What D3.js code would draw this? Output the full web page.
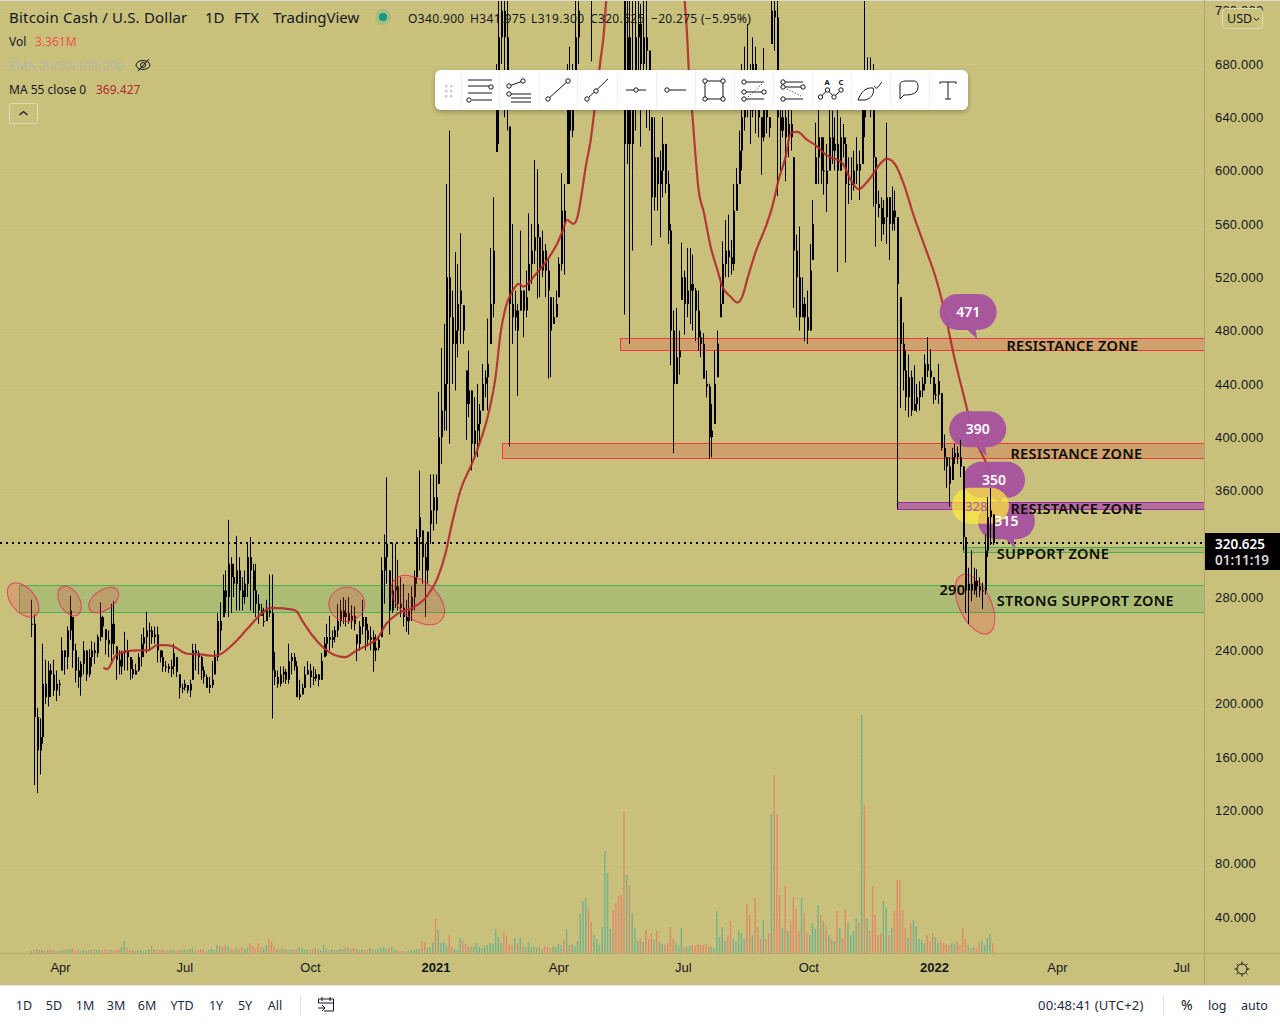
<!DOCTYPE html>
<html>
<head>
<meta charset="utf-8">
<script src="https://cdn.jsdelivr.net/npm/d3@7"></script>
<style>
html, body { margin: 0; padding: 0; background: #fff; overflow: hidden; }
svg { display: block; font-family: "Noto Sans", sans-serif; }
</style>
</head>
<body>
<div id="chart"></div>
<script>
// two day bars, prices in USD
var startDate = "2020-03-11",
    barDays = 2;

var highs = [
    278,267,197,189,245,233,232,230,233,225,
    218,250,240,258,281,265,245,235,232,247,
    240,241,247,246,252,276,266,256,255,275,
    277,243,240,240,254,248,235,233,230,238,
    252,257,269,261,258,258,258,240,240,232,
    230,233,245,235,222,215,218,214,218,245,
    245,240,236,228,222,220,232,240,268,276,
    297,300,338,310,305,326,310,295,300,320,
    325,305,305,282,275,272,278,297,297,239,
    225,228,228,226,245,238,238,232,218,215,
    228,232,230,228,226,222,238,250,260,266,
    255,258,275,278,280,278,280,274,273,252,
    262,278,265,260,258,255,252,250,310,327,
    370,300,321,320,308,295,290,278,283,288,
    300,331,375,330,320,329,372,372,372,434,
    467,485,590,630,510,539,530,553,499,450,
    465,435,430,440,425,455,450,489,542,580,
    680,740,740,740,740,633,560,510,500,555,
    510,525,568,560,608,601,550,555,545,535,
    505,505,510,535,598,590,680,693,680,745,
    745,1000,1100,1150,1050,850,1000,1100,1200,1300,
    1400,1500,1600,1550,1400,1350,1100,900,800,760,
    760,760,740,725,760,730,690,640,640,610,
    615,640,620,600,560,495,497,480,546,525,
    542,542,537,512,510,480,478,450,440,425,
    465,480,520,547,563,567,548,590,602,630,
    680,693,710,680,700,693,660,640,692,660,
    640,745,760,760,650,655,650,650,650,610,
    552,558,520,505,510,545,578,636,650,625,
    625,620,650,645,640,650,640,635,625,610,
    610,615,625,615,650,790,685,685,680,610,
    585,580,578,636,580,588,585,565,505,486,
    465,462,450,454,440,442,445,462,475,466,
    445,440,455,433,402,385,385,392,395,393,
    398,378,325,302,315,302,301,295,291,327,355,362,342
];

var lows = [
    250,139,133,147,170,200,198,205,206,202,
    206,225,222,226,248,227,216,212,206,222,
    217,220,228,230,235,247,250,237,235,232,
    237,218,222,222,225,225,218,219,222,224,
    228,235,238,240,245,245,231,231,224,224,
    223,220,222,220,204,208,210,208,205,218,
    225,222,218,215,212,208,212,222,232,240,
    265,268,265,268,280,270,270,270,275,280,
    270,268,265,260,266,258,262,265,189,214,
    212,213,216,215,215,222,225,205,203,207,
    212,222,212,214,217,213,218,235,236,240,
    242,246,250,258,260,258,260,256,255,232,
    240,252,240,243,240,224,232,240,250,275,
    290,252,268,272,270,265,258,254,252,262,
    270,290,300,290,265,290,320,330,335,365,
    380,405,405,395,440,435,460,470,470,398,
    415,375,385,385,395,420,430,420,470,490,
    614,620,680,640,630,393,470,480,431,495,
    475,490,510,515,530,504,505,520,505,444,
    445,485,490,505,525,522,590,590,625,650,
    680,800,850,900,820,682,800,850,950,1000,
    1000,1100,1150,1100,1000,950,800,492,605,470,
    540,630,660,618,660,632,630,544,570,570,
    550,580,583,545,454,388,440,447,503,477,
    490,485,480,472,465,460,444,430,384,385,
    410,445,490,500,520,520,522,525,570,590,
    600,630,640,620,640,628,625,597,622,628,
    625,695,690,581,600,625,592,610,615,497,
    490,480,490,472,470,480,533,590,590,590,
    582,569,600,605,600,524,600,610,531,575,
    578,585,590,578,605,625,650,640,573,543,
    565,547,552,545,533,555,555,346,422,435,
    420,415,416,420,419,420,430,435,445,440,
    425,428,425,390,375,362,348,368,380,380,
    370,315,268,260,277,282,280,280,271,282,310,319,319
];

var closes = [
    260,190,165,175,215,205,225,222,210,215,
    214,240,235,255,270,240,225,220,230,240,
    222,235,240,238,250,265,258,248,245,260,
    245,233,228,238,240,235,226,222,225,235,
    245,250,255,255,250,252,240,235,228,228,
    226,228,238,224,212,212,215,210,215,240,
    238,235,225,220,212,214,218,235,262,255,
    285,280,305,295,290,300,285,280,290,310,
    300,285,275,270,262,262,270,268,225,220,
    215,222,224,218,232,235,228,205,207,212,
    222,225,220,219,222,218,232,245,250,248,
    250,255,262,270,265,268,262,266,260,245,
    258,265,255,248,250,240,242,248,300,310,
    320,270,285,288,275,272,265,262,270,280,
    295,325,340,310,300,335,345,355,345,400,
    420,440,520,490,470,480,500,510,480,425,
    435,395,405,410,420,440,445,455,500,540,
    650,700,720,700,660,500,490,495,480,510,
    495,505,530,540,550,560,525,540,525,510,
    480,490,500,530,570,560,650,630,650,700,
    720,900,1000,1050,900,800,900,1000,1100,1200,
    1250,1300,1400,1300,1200,1100,900,620,700,620,
    650,700,710,680,700,690,660,580,610,590,
    600,620,590,555,480,440,460,465,520,500,
    510,515,510,495,475,470,440,438,400,405,
    440,470,500,530,540,535,530,570,590,615,
    640,670,660,645,680,665,640,625,650,640,
    632,720,715,640,630,640,625,635,625,540,
    520,490,500,490,480,525,560,610,625,600,
    600,590,625,615,620,600,625,620,590,590,
    590,600,605,600,648,640,665,660,610,575,
    572,560,565,580,560,570,565,515,470,450,
    430,445,420,425,430,435,440,455,450,445,
    432,432,442,392,385,378,365,385,388,385,
    378,325,285,290,285,292,288,285,285,315,340,345,320.6
];

// volume, same bars, relative units
var volumes = [
    2,3,4,3,3,2,3,4,3,2,
    2,3,4,3,4,5,3,3,2,3,
    2,3,3,4,3,3,3,4,3,3,
    2,3,4,6,12,5,3,3,2,3,
    3,2,3,4,7,4,3,3,4,2,
    3,4,3,2,3,3,4,3,4,5,
    3,3,4,3,2,3,4,3,8,7,
    6,8,6,4,3,5,4,6,4,5,
    10,7,5,10,6,5,8,14,12,6,
    4,3,5,4,3,4,3,4,6,5,
    4,3,3,4,5,4,3,8,5,3,
    4,3,3,4,4,5,6,4,5,4,
    3,4,3,3,5,4,3,4,5,6,
    4,5,6,4,3,2,2,1,2,3,
    3,4,4,12,11,5,6,10,35,23,
    10,11,8,18,6,4,3,15,12,9,
    7,6,7,10,6,5,7,8,10,9,
    24,16,10,21,17,9,8,15,10,15,
    7,6,11,6,7,5,6,4,7,6,
    5,7,6,9,8,13,24,8,9,7,
    12,39,52,55,44,31,18,14,8,26,
    102,80,24,43,50,57,58,141,78,68,
    40,25,12,15,11,23,14,20,13,22,
    11,9,8,10,26,14,10,8,25,6,
    6,7,8,7,9,8,8,9,7,6,
    5,42,16,26,12,18,32,14,12,23,
    20,14,49,38,18,55,26,14,33,14,
    20,139,178,139,58,25,67,22,32,56,
    44,22,55,40,20,18,30,24,48,38,
    32,27,18,14,12,42,25,15,43,30,
    18,22,35,30,238,148,35,22,67,38,
    18,20,52,45,18,25,42,73,73,43,
    25,15,30,33,27,14,13,10,18,12,
    20,16,10,12,10,9,8,10,9,12,
    8,25,14,8,5,6,5,10,12,8,15,19,10
];

// MA 55, bar number and value
var maBars = [
    26.4,27.8,30.8,34.4,38.8,42.5,46.2,49,52,57,62,66.7,69,74,79,84,87.5,92.4,96.7,99.6,
    103,107,110.6,115,118.7,123,126.7,130,134,140,145,148.7,151.6,154,157.1,161.4,163.7,167.4,170,171.8,
    173.6,176,178.4,180.2,184.6,188.9,192.6,194.4,196.2,198.5,200,201.7,203,204.8,206.2,208.4,209.5,210.5,217.6,224.9,
    232.2,239.2,240.2,240.7,242,243.2,244.3,246.2,248.7,251.2,253,256,258.5,260.3,262.2,265.2,268.9,271.3,273.6,276.2,
    278,280.5,284.1,287.2,290.8,297,300,302.9,306.6,311,313.2,316.5,319.4,323.1,327.5,331.1,334.1,337.7,341.4,344,346.5,350.2,351.6
];
var maValues = [
    227,226,236,239,240,240,244,244,243,237.5,237,236,237,245,256,267,272,271.5,270,261,
    251,242,237,235,239.5,244,249,260,267.5,272.5,281,294,312.5,335,360,380.5,393,418,445.5,478,
    497,509,515,513,522,533,545.5,554,563,560,565.5,585.5,603,623,645.5,683,700.5,728,880,950,
    870,728,698,675.5,643,610.5,585.5,569,543,525.5,513,505.5,501,505.5,519,539,558,573,593,610.5,
    628,629,623,619,612,605.6,593,586,593,605.6,609,604,590,566,541,520,497,462,431,410,394,378,369.4
];

var priceTicks = [720,680,640,600,560,520,480,440,400,360,280,240,200,160,120,80,40],
    lastPrice = 320.625;

var timeTickDates = ["2020-04-01","2020-07-01","2020-10-01","2021-01-01","2021-04-01","2021-07-01","2021-10-01","2022-01-01","2022-04-01","2022-07-01"],
    timeTickLabels = ["Apr","Jul","Oct","2021","Apr","Jul","Oct","2022","Apr","Jul"];

// drawn zones, price top and bottom
var zoneStarts = ["2021-05-16","2021-02-19","2021-12-05","2022-01-22","2020-03-02"],
    zoneTops = [474.4,395.6,351.3,317.5,289],
    zoneBottoms = [465.4,384.3,346,313.8,268.8],
    zoneKinds = ["res","res","purple","sup","sup"];

var labelTexts = ["RESISTANCE ZONE","RESISTANCE ZONE","RESISTANCE ZONE","SUPPORT ZONE","STRONG SUPPORT ZONE","290"],
    labelDates = ["2022-02-23","2022-02-26","2022-02-26","2022-02-16","2022-02-16","2022-01-05"],
    labelPrices = [468.2,387.2,345.8,312.2,277,285];

var ellipseDates = ["2020-03-05","2020-04-08","2020-05-03","2020-10-28","2020-12-19","2022-01-31"],
    ellipsePrices = [277.8,277,277.8,274.7,277.8,274.7],
    ellipseRx = [20,16,17,18,31,32],
    ellipseRy = [12,10,10,17,19,16],
    ellipseTurn = [50,60,-35,0,40,65];

var calloutTexts = ["471","390","350","315"],
    calloutDates = ["2022-01-26","2022-02-02","2022-02-14","2022-02-23"],
    calloutPrices = [494,406,368,337];

var width = 1280,
    height = 1024,
    chartRight = 1204,
    chartBottom = 953;

var bg = "#c9c17b",
    ink = "#131722";

var parseDay = d3.utcParse("%Y-%m-%d");

var x = d3.scaleUtc()
    .domain([parseDay("2020-04-01"), parseDay("2022-01-01")])
    .range([60, 934]);

var y = d3.scaleLinear()
    .domain([680, 40])
    .range([64, 917]);

var volY = d3.scaleLinear()
    .domain([0, 238])
    .range([chartBottom, chartBottom - 238]);

function barX(i) {
    return x(d3.utcDay.offset(parseDay(startDate), i * barDays));
}

var svg = d3.select("#chart")
    .append("svg")
    .attr("width", width)
    .attr("height", height);

var defs = svg.append("defs");

defs.append("clipPath")
    .attr("id", "pane")
    .append("rect")
    .attr("x", 0)
    .attr("y", 1)
    .attr("width", chartRight)
    .attr("height", chartBottom - 1);

var shadow = defs.append("filter")
    .attr("id", "shadow")
    .attr("x", "-5%").attr("y", "-30%")
    .attr("width", "110%").attr("height", "170%");
shadow.append("feDropShadow")
    .attr("dx", 0).attr("dy", 2)
    .attr("stdDeviation", 2.5)
    .attr("flood-color", "#000")
    .attr("flood-opacity", 0.28);

svg.append("rect")
    .attr("width", width)
    .attr("height", 985)
    .attr("fill", bg);

svg.append("rect")
    .attr("width", width)
    .attr("height", 1)
    .attr("fill", "#dcdcd8");

// grid
svg.append("g")
    .selectAll("line")
    .data(priceTicks.concat([320]))
    .enter().append("line")
    .attr("x1", 0)
    .attr("x2", chartRight)
    .attr("y1", d => Math.round(y(d)) + 0.5)
    .attr("y2", d => Math.round(y(d)) + 0.5)
    .attr("stroke", "#fff")
    .attr("stroke-opacity", 0.07);

var pane = svg.append("g").attr("clip-path", "url(#pane)");

// volume under everything else
var barIds = d3.range(highs.length);

pane.append("g")
    .selectAll("rect")
    .data(barIds)
    .enter().append("rect")
    .attr("x", i => barX(i) - 0.7)
    .attr("width", 1.4)
    .attr("y", i => volY(volumes[i]))
    .attr("height", i => chartBottom - volY(volumes[i]))
    .attr("fill", i => (i > 0 && closes[i] < closes[i - 1]) ? "#e0896a" : "#72b28f");

// zones
var zoneFill = { res: "#cfa06c", purple: "#a33fa6", sup: "#7fb56a" },
    zoneEdge = { res: "#f23645", purple: "#9c27b0", sup: "#4caf50" },
    zoneAlpha = { res: 0.95, purple: 0.62, sup: 0.38 };

pane.append("g")
    .selectAll("rect")
    .data(zoneStarts)
    .enter().append("rect")
    .attr("x", d => Math.round(x(parseDay(d))) + 0.5)
    .attr("y", (d, i) => Math.round(y(zoneTops[i])) + 0.5)
    .attr("width", d => chartRight + 4 - x(parseDay(d)))
    .attr("height", (d, i) => Math.round(y(zoneBottoms[i]) - y(zoneTops[i])))
    .attr("fill", (d, i) => zoneFill[zoneKinds[i]])
    .attr("fill-opacity", (d, i) => zoneAlpha[zoneKinds[i]])
    .attr("stroke", (d, i) => zoneEdge[zoneKinds[i]])
    .attr("stroke-width", 1);

function drawBars(parent, ids) {
    var g = parent.append("g").attr("fill", "#000");
    g.selectAll(".wick")
        .data(ids)
        .enter().append("rect")
        .attr("class", "wick")
        .attr("x", i => Math.round(barX(i)))
        .attr("width", 1)
        .attr("y", i => y(highs[i]))
        .attr("height", i => y(lows[i]) - y(highs[i]));
    g.selectAll(".body")
        .data(ids)
        .enter().append("rect")
        .attr("class", "body")
        .attr("x", i => Math.round(barX(i)))
        .attr("width", 2)
        .attr("y", i => y(Math.min(highs[i], Math.max(closes[i], i > 0 ? closes[i - 1] : closes[i]))))
        .attr("height", i => {
            var top = Math.min(highs[i], Math.max(closes[i], i > 0 ? closes[i - 1] : closes[i])),
                bot = Math.max(lows[i], Math.min(closes[i], i > 0 ? closes[i - 1] : closes[i]));
            return Math.max(1, y(bot) - y(top));
        });
}

var lateBars = 335;
drawBars(pane, barIds.filter(i => i < lateBars));

// last price
pane.append("line")
    .attr("x1", 0)
    .attr("x2", chartRight)
    .attr("y1", y(lastPrice))
    .attr("y2", y(lastPrice))
    .attr("stroke", "#000")
    .attr("stroke-width", 2)
    .attr("stroke-dasharray", "2 4");

// MA line
var maLine = d3.line()
    .x(d => {
        var whole = Math.floor(d);
        return barX(whole) + (barX(whole + 1) - barX(whole)) * (d - whole);
    })
    .y((d, i) => y(maValues[i]))
    .curve(d3.curveMonotoneX);

pane.append("path")
    .attr("d", maLine(maBars))
    .attr("fill", "none")
    .attr("stroke", "#b2282f")
    .attr("stroke-opacity", 0.9)
    .attr("stroke-width", 2.2);

// ellipses
pane.append("g")
    .selectAll("ellipse")
    .data(ellipseDates)
    .enter().append("ellipse")
    .attr("rx", (d, i) => ellipseRx[i])
    .attr("ry", (d, i) => ellipseRy[i])
    .attr("transform", (d, i) => "translate(" + x(parseDay(d)) + "," + y(ellipsePrices[i]) + ") rotate(" + ellipseTurn[i] + ")")
    .attr("fill", "#f23645")
    .attr("fill-opacity", 0.22)
    .attr("stroke", "#e91e63")
    .attr("stroke-opacity", 0.75)
    .attr("stroke-width", 1);

// callouts
function callout(parent, cx, cy, w, h, tail, fill, alpha) {
    var g = parent.append("g")
        .attr("transform", "translate(" + cx + "," + cy + ")")
        .attr("opacity", alpha);
    g.append("rect")
        .attr("x", -w / 2)
        .attr("y", -h / 2)
        .attr("width", w)
        .attr("height", h)
        .attr("rx", h / 2)
        .attr("fill", fill);
    if (tail) {
        g.append("path")
            .attr("d", "M-4," + (h / 2 - 3) + "L" + tail[0] + "," + tail[1] + "L7," + (h / 2 - 3) + "Z")
            .attr("fill", fill);
    }
}

var calloutG = pane.append("g");
calloutTexts.forEach((t, i) => {
    callout(calloutG, x(parseDay(calloutDates[i])), y(calloutPrices[i]), i == 2 ? 62 : 57, 36, [9, 27], "#a8529f", 0.95);
});

callout(calloutG, x(parseDay("2022-02-04")), y(348.5), 57, 36, null, "#ffeb3b", 0.72);

calloutG.append("text")
    .attr("x", x(parseDay("2022-02-01")))
    .attr("y", y(348.5) + 5)
    .attr("text-anchor", "middle")
    .attr("font-size", 13)
    .attr("fill", "#a55f8f")
    .text("328");

calloutTexts.forEach((t, i) => {
    calloutG.append("text")
        .attr("x", x(parseDay(calloutDates[i])))
        .attr("y", y(calloutPrices[i]) + 5)
        .attr("text-anchor", "middle")
        .attr("font-size", 14)
        .attr("font-weight", 600)
        .attr("fill", "#fff")
        .text(t);
});

drawBars(pane, barIds.filter(i => i >= lateBars));

// zone labels
svg.append("g")
    .selectAll("text")
    .data(labelTexts)
    .enter().append("text")
    .attr("x", (d, i) => x(parseDay(labelDates[i])))
    .attr("y", (d, i) => y(labelPrices[i]) + 5)
    .attr("font-size", 14.5)
    .attr("font-weight", 600)
    .attr("letter-spacing", 0.3)
    .attr("fill", "#0b0b05")
    .text(d => d);

// price axis
svg.append("line")
    .attr("x1", chartRight + 0.5).attr("x2", chartRight + 0.5)
    .attr("y1", 0).attr("y2", 985)
    .attr("stroke", "#b0a96b");

var priceAxis = svg.append("g")
    .attr("transform", "translate(" + chartRight + ",0)")
    .call(d3.axisRight(y).tickValues(priceTicks).tickSize(0).tickPadding(11).tickFormat(d3.format(".3f")));
priceAxis.select(".domain").remove();
priceAxis.selectAll("text")
    .attr("font-family", "inherit")
    .attr("font-size", 13)
    .attr("letter-spacing", 0.2)
    .attr("fill", ink);

// time axis
svg.append("line")
    .attr("x1", 0).attr("x2", width)
    .attr("y1", chartBottom + 0.5).attr("y2", chartBottom + 0.5)
    .attr("stroke", "#b0a96b");

var timeAxis = svg.append("g")
    .attr("transform", "translate(0," + chartBottom + ")")
    .call(d3.axisBottom(x)
        .tickValues(timeTickDates.map(parseDay))
        .tickSize(0)
        .tickPadding(10)
        .tickFormat((d, i) => timeTickLabels[i]));
timeAxis.select(".domain").remove();
timeAxis.selectAll("text")
    .attr("font-family", "inherit")
    .attr("font-size", 13)
    .attr("font-weight", (d, i) => timeTickLabels[i].length == 4 ? 700 : 400)
    .attr("fill", ink);

// price tag
svg.append("rect")
    .attr("x", 1205).attr("y", 533)
    .attr("width", 75).attr("height", 37)
    .attr("fill", "#000");
svg.append("text")
    .attr("x", 1240).attr("y", 549)
    .attr("text-anchor", "middle")
    .attr("font-size", 13.5)
    .attr("font-weight", 600)
    .attr("fill", "#fff")
    .text(d3.format(".3f")(lastPrice));
svg.append("text")
    .attr("x", 1242).attr("y", 565)
    .attr("text-anchor", "middle")
    .attr("font-size", 13.5)
    .attr("font-weight", 600)
    .attr("fill", "#d8d8d8")
    .text("01:11:19");

// legend
function label(px, py, t, size, fill, extra) {
    var n = svg.append("text")
        .attr("x", px).attr("y", py)
        .attr("font-size", size)
        .attr("fill", fill)
        .text(t);
    if (extra) n.attr("letter-spacing", extra);
    return n;
}

label(9, 23, "Bitcoin Cash / U.S. Dollar", 15, ink, 0.2);
label(205, 23, "1D", 15, ink);
label(234, 23, "FTX", 15, ink);
label(273, 23, "TradingView", 15, ink);
svg.append("circle").attr("cx", 383).attr("cy", 17).attr("r", 8).attr("fill", "#26a69a").attr("opacity", 0.2);
svg.append("circle").attr("cx", 383).attr("cy", 17).attr("r", 4).attr("fill", "#089981");
label(408, 23, "O340.900", 12, ink, 0.35);
label(470, 23, "H341.975", 12, ink, 0.35);
label(531, 23, "L319.300", 12, ink, 0.35);
label(590, 23, "C320.625", 12, ink, 0.35);
label(651, 23, "\u221220.275 (\u22125.95%)", 12, ink, 0.3);

label(9, 46, "Vol", 12, ink);
label(35, 46, "3.361M", 12, "#ef5350");
label(9, 70, "EMA 20/50/100/200", 12.5, "#b4b7a8");
label(9, 94, "MA 55 close 0", 12, ink);
label(96, 94, "369.427", 12, "#b2282f");

// eye with a stroke through it
var eye = svg.append("g").attr("transform", "translate(143,65)").attr("fill", "none").attr("stroke", ink).attr("stroke-width", 1);
eye.append("ellipse").attr("rx", 7).attr("ry", 4.5);
eye.append("circle").attr("r", 2.5);
eye.append("line").attr("x1", -5).attr("y1", 6).attr("x2", 6).attr("y2", -6);

svg.append("rect")
    .attr("x", 9.5).attr("y", 103.5)
    .attr("width", 28).attr("height", 20)
    .attr("rx", 2)
    .attr("fill", "none")
    .attr("stroke", "#dedbb8");
svg.append("path")
    .attr("d", "M19.5,115L23.5,111.5L27.5,115")
    .attr("fill", "none")
    .attr("stroke", ink)
    .attr("stroke-width", 1.2);

// currency button, sits on the top tick
svg.append("rect")
    .attr("x", 1222.5).attr("y", 8.5)
    .attr("width", 40).attr("height", 20)
    .attr("rx", 4)
    .attr("fill", bg)
    .attr("stroke", "#dedbb8");
label(1227, 23, "USD", 12.5, ink);
svg.append("path")
    .attr("d", "M1254,18L1256.5,20.5L1259,18")
    .attr("fill", "none")
    .attr("stroke", ink);

// toolbar
var toolCentres = [480,519,558,597,636,675,714,753,792,831,870,909,948],
    toolDividers = [461,499,539,577,617,656,695,734,773,812,851,890,929];

var toolLines = [
    [[-12,-10,12,-10],[-12,-4,12,-4],[-12,3,12,3],[-8,10,12,10]],
    [[-10,-4,4,-9],[-8,4,12,4],[-8,8,12,8],[-8,12,12,12]],
    [[-10,9,10,-9]],
    [[-10,9,11,-11]],
    [[-10,0,10,0]],
    [[-8,0,11,0]],
    [[-9,-9,9,-9],[9,-9,9,9],[9,9,-9,9],[-9,9,-9,-9]],
    [[-9,-8,11,-8],[-9,2,11,2],[-9,9,11,9]],
    [[-9,-8,11,-8],[-9,-3,11,-3],[-9,9,11,9]],
    [[-10.5,7,-3.5,0],[-3.5,0,3,7],[3,7,10,0]],
    [], [], []
];

var toolDots = [
    [[11,-3],[-11,10]],
    [[-10,-4],[4,-9],[-10,4]],
    [[-10,9],[10,-9]],
    [[-10,9],[-1,1]],
    [[0,0]],
    [[-8,0]],
    [[-9,-9],[9,-9],[9,9],[-9,9]],
    [[-9,-8],[-9,2],[11,2],[-9,9]],
    [[-9,-8],[-9,-3],[11,-3],[-9,9]],
    [[-10.5,7],[-3.5,0],[3,7],[10,0]],
    [], [], []
];

var toolPaths = {
    10: "M-12,10C-9,2 -4,-3 3,-2C5,3 1,9 -5,10L-12,10M4,-4C5,-2 7,-1 8,-3L12,-8",
    11: "M-9,-5C-9,-9 -5,-9 -1,-9L5,-9C10,-9 10,-1 7,2C4,5 -2,5 -5,5L-9,9Z",
    12: "M-8,-8L8,-8M-8,-8L-8,-6M8,-8L8,-6M0,-8L0,9M-3,9L3,9"
};

var toolbar = svg.append("g");
toolbar.append("rect")
    .attr("x", 435).attr("y", 70)
    .attr("width", 533).attr("height", 40)
    .attr("rx", 6)
    .attr("fill", "#fff")
    .attr("filter", "url(#shadow)");

toolbar.selectAll(".divider")
    .data(toolDividers)
    .enter().append("line")
    .attr("class", "divider")
    .attr("x1", d => d + 0.5).attr("x2", d => d + 0.5)
    .attr("y1", 70).attr("y2", 110)
    .attr("stroke", "#eef0f6");

d3.range(2).forEach(c => {
    d3.range(3).forEach(r => {
        toolbar.append("rect")
            .attr("x", 445 + c * 5).attr("y", 85 + r * 5)
            .attr("width", 2.4).attr("height", 2.4)
            .attr("fill", "#c8cbd6");
    });
});

toolCentres.forEach((cx, i) => {
    var g = toolbar.append("g").attr("transform", "translate(" + cx + ",90)");
    g.selectAll("line")
        .data(toolLines[i])
        .enter().append("line")
        .attr("x1", d => d[0]).attr("y1", d => d[1])
        .attr("x2", d => d[2]).attr("y2", d => d[3])
        .attr("stroke", ink);
    if (toolPaths[i]) {
        g.append("path").attr("d", toolPaths[i]).attr("fill", "none").attr("stroke", ink);
    }
    g.selectAll("circle")
        .data(toolDots[i])
        .enter().append("circle")
        .attr("cx", d => d[0]).attr("cy", d => d[1])
        .attr("r", 2.2)
        .attr("fill", "#fff")
        .attr("stroke", ink);
});

[[753,97,84],[792,89,96]].forEach(d => {
    toolbar.append("line")
        .attr("x1", d[0] - 5).attr("y1", d[1])
        .attr("x2", d[0] + 9).attr("y2", d[2])
        .attr("stroke", ink)
        .attr("stroke-dasharray", "1 2");
});

[["A",827],["C",841]].forEach(d => {
    toolbar.append("text")
        .attr("x", d[1]).attr("y", 85)
        .attr("text-anchor", "middle")
        .attr("font-size", 7.5)
        .attr("font-weight", 700)
        .attr("fill", ink)
        .text(d[0]);
});

// bottom bar
svg.append("line")
    .attr("x1", 0).attr("x2", width)
    .attr("y1", 985.5).attr("y2", 985.5)
    .attr("stroke", "#e0e3eb");

var rangeLabels = ["1D","5D","1M","3M","6M","YTD","1Y","5Y","All"],
    rangeCentres = [24,54,85,116,147,182,216,245,275];

svg.append("g")
    .selectAll("text")
    .data(rangeLabels)
    .enter().append("text")
    .attr("x", (d, i) => rangeCentres[i])
    .attr("y", 1010)
    .attr("text-anchor", "middle")
    .attr("font-size", 12.5)
    .attr("fill", "#1c2a44")
    .text(d => d);

svg.append("line")
    .attr("x1", 300.5).attr("x2", 300.5)
    .attr("y1", 994).attr("y2", 1016)
    .attr("stroke", "#e0e3eb");
svg.append("line")
    .attr("x1", 1163.5).attr("x2", 1163.5)
    .attr("y1", 994).attr("y2", 1016)
    .attr("stroke", "#e0e3eb");

svg.append("path")
    .attr("d", "M318.5,1003L318.5,999L333.5,999L333.5,1011L324,1011M318.5,1003L333.5,1003M322,997L322,1001M330,997L330,1001M318,1008L325,1008M322,1005L325,1008L322,1011")
    .attr("fill", "none")
    .attr("stroke", ink);

label(1038, 1010, "00:48:41 (UTC+2)", 13, "#1c2a44", 0.2);
label(1181, 1010, "%", 14, ink);
label(1208, 1010, "log", 12.5, "#1c2a44");
label(1241, 1010, "auto", 12.5, "#1c2a44");

// settings gear
var gear = svg.append("g").attr("transform", "translate(1242,969)").attr("stroke", ink).attr("fill", "none");
gear.append("circle").attr("r", 5);
d3.range(8).forEach(k => {
    var a = k * Math.PI / 4;
    gear.append("line")
        .attr("x1", 5 * Math.cos(a)).attr("y1", 5 * Math.sin(a))
        .attr("x2", 7.5 * Math.cos(a)).attr("y2", 7.5 * Math.sin(a));
});
</script>
</body>
</html>
